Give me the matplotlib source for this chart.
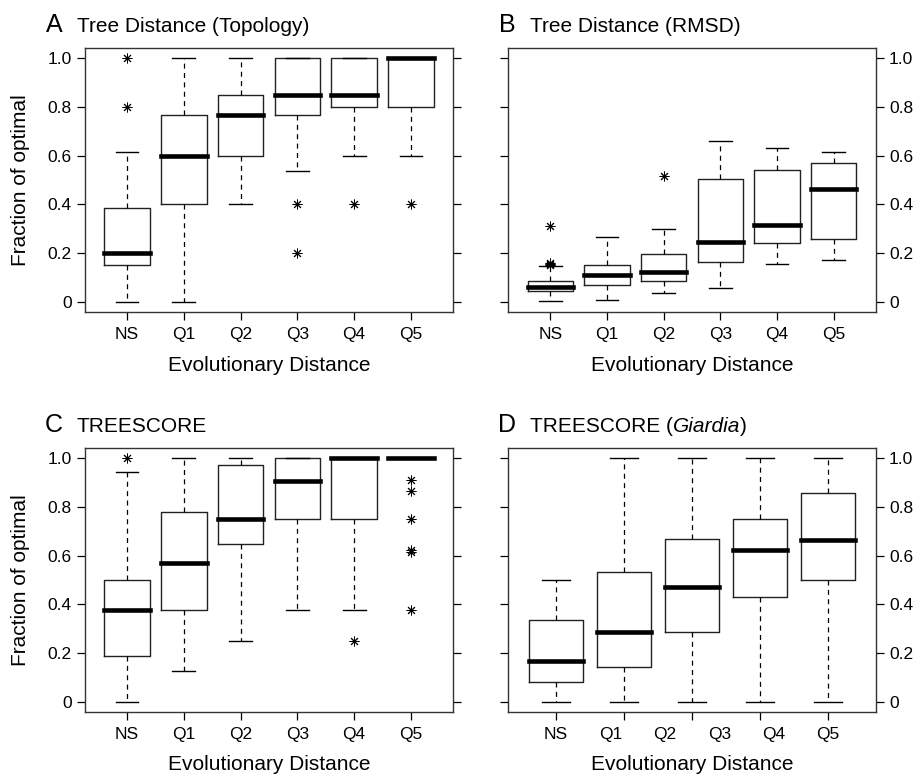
import numpy as np
import matplotlib
matplotlib.use('Agg')
import matplotlib.pyplot as plt

plt.rcParams['font.family'] = ['Liberation Sans', 'DejaVu Sans']

cats = ['NS', 'Q1', 'Q2', 'Q3', 'Q4', 'Q5']
yticks = [0, 0.2, 0.4, 0.6, 0.8, 1.0]
ytick_labels = ['0', '0.2', '0.4', '0.6', '0.8', '1.0']

# Panel A: Tree Distance (Topology)
a_whislo = [0.0, 0.0, 0.4, 0.537, 0.6, 0.6]
a_q1 = [0.152, 0.4, 0.6, 0.767, 0.8, 0.8]
a_med = [0.2, 0.6, 0.767, 0.846, 0.846, 1.0]
a_q3 = [0.385, 0.767, 0.846, 1.0, 1.0, 1.0]
a_whishi = [0.615, 1.0, 1.0, 1.0, 1.0, 1.0]
a_fliers = [[0.8, 1.0], [], [], [0.2, 0.4], [0.4], [0.4]]

# Panel B: Tree Distance (RMSD)
b_whislo = [0.007, 0.009, 0.037, 0.06, 0.158, 0.174]
b_q1 = [0.044, 0.071, 0.087, 0.166, 0.241, 0.257]
b_med = [0.061, 0.11, 0.124, 0.248, 0.316, 0.464]
b_q3 = [0.087, 0.152, 0.197, 0.503, 0.542, 0.57]
b_whishi = [0.15, 0.268, 0.299, 0.659, 0.629, 0.616]
b_fliers = [[0.152, 0.157, 0.162, 0.312], [], [0.516], [], [], []]

# Panel C: TREESCORE
c_whislo = [0.0, 0.125, 0.25, 0.375, 0.375, 1.0]
c_q1 = [0.189, 0.375, 0.646, 0.75, 0.75, 1.0]
c_med = [0.375, 0.571, 0.75, 0.906, 1.0, 1.0]
c_q3 = [0.5, 0.778, 0.97, 1.0, 1.0, 1.0]
c_whishi = [0.944, 1.0, 1.0, 1.0, 1.0, 1.0]
c_fliers = [[1.0], [], [], [], [0.25], [0.912, 0.865, 0.75, 0.625, 0.615, 0.375]]

# Panel D: TREESCORE (Giardia) - five boxes
d_whislo = [0.0, 0.0, 0.0, 0.0, 0.0]
d_q1 = [0.083, 0.143, 0.286, 0.429, 0.5]
d_med = [0.166, 0.286, 0.471, 0.624, 0.666]
d_q3 = [0.335, 0.534, 0.668, 0.75, 0.856]
d_whishi = [0.5, 1.0, 1.0, 1.0, 1.0]
d_fliers = [[], [], [], [], []]

W, H = 920, 777
fig = plt.figure(figsize=(W / 100, H / 100), dpi=100)

def px_axes(x0, y0, x1, y1):
    return fig.add_axes([x0 / W, 1 - y1 / H, (x1 - x0) / W, (y1 - y0) / H])

FRAME = '#333333'
TICKLEN = 5.5
TICKPAD = 4.0
TICKFS = 12.5

def draw_panel(ax, whislo, q1, med, q3, whishi, fliers, right_labels, ylab, giardia=False):
    n = len(med)
    pos = np.arange(1, n + 1)
    stats = [dict(whislo=whislo[i], q1=q1[i], med=med[i], q3=q3[i],
                  whishi=whishi[i], fliers=fliers[i]) for i in range(n)]
    ax.bxp(stats, positions=pos, widths=0.8, capwidths=0.4,
           boxprops=dict(color='#222222', lw=1.0),
           medianprops=dict(color='black', lw=3.3, solid_capstyle='projecting'),
           whiskerprops=dict(color='black', lw=0.9, linestyle=(0, (4, 3.5))),
           capprops=dict(color='black', lw=1.0),
           flierprops=dict(marker=(8, 2, 0), markersize=7.0, markeredgecolor='black',
                           markerfacecolor='black', markeredgewidth=0.7, linestyle='none'),
           manage_ticks=False)
    ax.set_xlim(0.5 - 0.04 * n, n + 0.5 + 0.04 * n)
    ax.set_ylim(-0.04, 1.04)
    ax.set_yticks(yticks, ytick_labels)
    if giardia:
        ax.xaxis.remove_overlapping_locs = False
        ax.set_xticks(pos, [''] * n)
        ax.set_xticks(np.linspace(1, n, len(cats)), cats, minor=True)
        ax.tick_params(axis='x', which='minor', length=0, pad=TICKLEN + TICKPAD + 1.5,
                       labelsize=TICKFS)
    else:
        ax.set_xticks(pos, cats)
    ax.tick_params(axis='both', which='major', direction='out', length=TICKLEN,
                   width=0.9, colors='black', labelsize=TICKFS)
    ax.tick_params(axis='x', which='major', pad=TICKPAD + 1.5)
    ax.tick_params(axis='y', which='major', pad=TICKPAD, left=True, right=True,
                   labelleft=not right_labels, labelright=right_labels)
    for s in ax.spines.values():
        s.set_color(FRAME)
        s.set_linewidth(1.0)
    ax.set_xlabel('Evolutionary Distance', fontsize=15)
    ax.xaxis.set_label_coords(0.5, -0.165)
    if ylab:
        ax.set_ylabel('Fraction of optimal', fontsize=15)
        ax.yaxis.set_label_coords(-0.15, 0.5)

axA = px_axes(85, 48, 453, 312)
axB = px_axes(508.3, 48, 875.7, 312)
axC = px_axes(85, 448.3, 453, 711.7)
axD = px_axes(508.3, 448.3, 875.7, 711.7)

draw_panel(axA, a_whislo, a_q1, a_med, a_q3, a_whishi, a_fliers, False, True)
draw_panel(axB, b_whislo, b_q1, b_med, b_q3, b_whishi, b_fliers, True, False)
draw_panel(axC, c_whislo, c_q1, c_med, c_q3, c_whishi, c_fliers, False, True)
draw_panel(axD, d_whislo, d_q1, d_med, d_q3, d_whishi, d_fliers, True, False, giardia=True)

TFS = 15

def title(letter, text, xl, xt, yb):
    fig.text(xl / W, 1 - yb / H, letter, fontsize=18, va='baseline', ha='left')
    return fig.text(xt / W, 1 - yb / H, text, fontsize=TFS, va='baseline', ha='left')

title('A', 'Tree Distance (Topology)', 46, 77, 32)
title('B', 'Tree Distance (RMSD)', 499, 530, 32)
title('C', 'TREESCORE', 45, 77, 432)
t = title('D', 'TREESCORE (', 498, 530, 432)
t2 = fig.text(0, 0, 'Giardia', fontsize=TFS, style='italic', va='baseline', ha='left')
fig.canvas.draw()
r = fig.canvas.get_renderer()
bb = t.get_window_extent(r)
t2.set_position((bb.x1 / W, 1 - 432 / H))
fig.canvas.draw()
bb2 = t2.get_window_extent(r)
fig.text(bb2.x1 / W, 1 - 432 / H, ')', fontsize=TFS, va='baseline', ha='left')

fig.savefig('out.png', dpi=100)
